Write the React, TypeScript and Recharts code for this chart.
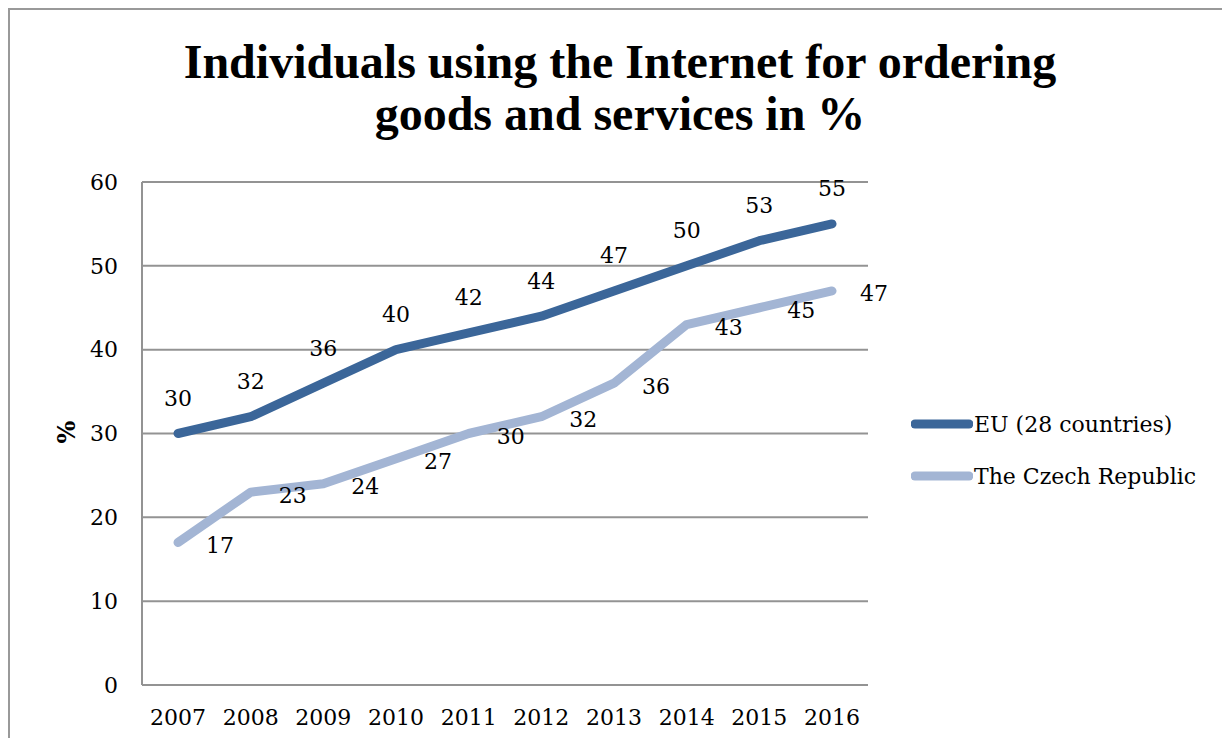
import React from "react";
import {
  LineChart,
  Line,
  XAxis,
  YAxis,
  CartesianGrid,
  LabelList,
} from "recharts";

const years = ["2007", "2008", "2009", "2010", "2011", "2012", "2013", "2014", "2015", "2016"];
const euValues = [30, 32, 36, 40, 42, 44, 47, 50, 53, 55];
const czValues = [17, 23, 24, 27, 30, 32, 36, 43, 45, 47];
const yTicks = [0, 10, 20, 30, 40, 50, 60];

const SERIES = [
  { key: "eu", name: "EU (28 countries)", color: "#3b6699" },
  { key: "cz", name: "The Czech Republic", color: "#a3b5d4" },
];

const data = years.map((year, i) => ({ year, eu: euValues[i], cz: czValues[i] }));

const FONT = "'DejaVu Serif', serif";
const GRID = "#939393";

// EU labels sit above the point
const EuLabel = (props: any) => {
  const { x, y, value } = props;
  return (
    <text x={x} y={y - 35} textAnchor="middle" dominantBaseline="central" fontFamily={FONT} fontSize={22} fill="#000">
      {value}
    </text>
  );
};

// Czech labels sit to the right of the point
const CzLabel = (props: any) => {
  const { x, y, value } = props;
  return (
    <text x={x + 28} y={y + 3} textAnchor="start" dominantBaseline="central" fontFamily={FONT} fontSize={22} fill="#000">
      {value}
    </text>
  );
};

export default function App() {
  return (
    <div style={{ position: "relative", width: 1222, height: 730, overflow: "hidden" }}>
      {/* chart frame (only top & left edges visible) */}
      <div
        style={{
          position: "absolute",
          left: 0,
          top: 0,
          width: 1300,
          height: 800,
          borderTop: "2px solid #999",
          borderLeft: "2px solid #999",
        }}
      />
      <div
        style={{
          position: "absolute",
          left: 0,
          width: 1224,
          top: 28,
          textAlign: "center",
          fontFamily: "'Liberation Serif', serif",
          fontWeight: "bold",
          fontSize: 48,
          lineHeight: "52px",
          color: "#000",
        }}
      >
        Individuals using the Internet for ordering
        <br />
        goods and services in %
      </div>
      <div
        style={{
          position: "absolute",
          left: 58,
          top: 424,
          transform: "translate(-50%, -50%) rotate(-90deg)",
          fontFamily: FONT,
          fontWeight: "bold",
          fontSize: 24,
          color: "#000",
        }}
      >
        %
      </div>
      <LineChart
        width={1222}
        height={730}
        data={data}
        margin={{ top: 174, right: 362, left: 74, bottom: 13 }}
        style={{ position: "absolute", left: 0, top: 0 }}
      >
        <CartesianGrid vertical={false} stroke={GRID} strokeWidth={2} />
        <XAxis
          dataKey="year"
          height={40}
          padding={{ left: 36, right: 36 }}
          axisLine={{ stroke: GRID, strokeWidth: 2 }}
          tickLine={false}
          tickSize={0}
          tickMargin={24}
          tick={{ fontFamily: FONT, fontSize: 22, fill: "#000" }}
          interval={0}
        />
        <YAxis
          width={60}
          domain={[0, 60]}
          ticks={yTicks}
          axisLine={{ stroke: GRID, strokeWidth: 2 }}
          tickLine={false}
          tickSize={0}
          tickMargin={24}
          tick={{ fontFamily: FONT, fontSize: 22, fill: "#000" }}
        />
        <Line
          dataKey="eu"
          name={SERIES[0].name}
          stroke={SERIES[0].color}
          strokeWidth={9}
          strokeLinecap="round"
          strokeLinejoin="round"
          dot={false}
          activeDot={false}
          isAnimationActive={false}
        >
          <LabelList dataKey="eu" content={EuLabel} />
        </Line>
        <Line
          dataKey="cz"
          name={SERIES[1].name}
          stroke={SERIES[1].color}
          strokeWidth={9}
          strokeLinecap="round"
          strokeLinejoin="round"
          dot={false}
          activeDot={false}
          isAnimationActive={false}
        >
          <LabelList dataKey="cz" content={CzLabel} />
        </Line>
      </LineChart>
      {/* legend */}
      <div style={{ position: "absolute", left: 903, top: 390, fontFamily: FONT, fontSize: 22, color: "#000" }}>
        {SERIES.map((s) => (
          <div key={s.key} style={{ display: "flex", alignItems: "center", height: 52 }}>
            <svg width={62} height={12}>
              <line x1={4} y1={6} x2={58} y2={6} stroke={s.color} strokeWidth={9} strokeLinecap="round" />
            </svg>
            <span style={{ marginLeft: 1 }}>{s.name}</span>
          </div>
        ))}
      </div>
    </div>
  );
}
